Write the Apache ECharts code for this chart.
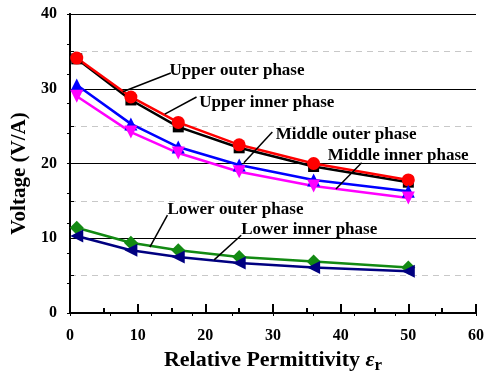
<!DOCTYPE html>
<html>
<head>
<meta charset="utf-8">
<script src="https://cdn.jsdelivr.net/npm/echarts@6/dist/echarts.min.js"></script>
<style>
  html, body { margin: 0; padding: 0; background: #fff; }
  #chart { width: 487px; height: 379px; }
</style>
</head>
<body>
<div id="chart"></div>
<script>
const permittivity = [1, 9, 16, 25, 36, 50]
const upperOuter = [34.0, 28.5, 24.9, 22.1, 19.6, 17.5]
const upperInner = [34.1, 28.9, 25.5, 22.5, 20.0, 17.8]
const middleOuter = [30.5, 25.3, 22.2, 19.8, 17.8, 16.3]
const middleInner = [29.0, 24.2, 21.4, 18.9, 17.0, 15.4]
const lowerOuter = [11.4, 9.4, 8.4, 7.5, 6.9, 6.1]
const lowerInner = [10.3, 8.4, 7.5, 6.7, 6.1, 5.6]

// label text, text anchor, pointer start, pointer end (data coords)
const notes = [
  ['Upper outer phase', [14.7, 32.4], [14.9, 32.1], [7.8, 29.6]],
  ['Upper inner phase', [19.1, 28.2], [18.7, 28.9], [14.0, 26.6]],
  ['Middle outer phase', [30.4, 23.9], [29.9, 24.2], [25.7, 20.1]],
  ['Middle inner phase', [38.1, 21.1], [43.1, 20.1], [39.3, 16.6]],
  ['Lower outer phase', [14.4, 13.8], [14.4, 13.1], [11.8, 8.8]],
  ['Lower inner phase', [25.3, 11.1], [25.3, 10.4], [21.3, 7.1]],
]

const font = 'Liberation Serif'
const pairs = vals => vals.map((v, i) => [permittivity[i], v])

const line = (name, vals, color, symbol, size, rotate) => ({
  name,
  type: 'line',
  data: pairs(vals),
  symbol,
  symbolSize: size,
  symbolRotate: rotate || 0,
  lineStyle: { color, width: 2.5 },
  itemStyle: { color },
  z: 3,
})

const myChart = echarts.init(document.getElementById('chart'))
myChart.setOption({
  animation: false,
  grid: { left: 70, right: 9, top: 14, bottom: 66 },
  xAxis: [
    {
      type: 'value',
      min: 0, max: 60, interval: 10,
      name: '{a|Relative Permittivity }{e|ε}{s|r}',
      nameLocation: 'middle',
      nameGap: 34,
      nameTextStyle: {
        rich: {
          a: { fontFamily: font, fontWeight: 'bold', fontSize: 22, color: '#000' },
          e: { fontFamily: font, fontStyle: 'italic', fontWeight: 'bold', fontSize: 22, color: '#000' },
          s: { fontFamily: font, fontWeight: 'bold', fontSize: 17, color: '#000', padding: [10, 0, 0, 0] },
        },
      },
      axisLine: { lineStyle: { color: '#000', width: 2 } },
      axisTick: { inside: true, length: 9, lineStyle: { color: '#000', width: 2 } },
      minorTick: { show: true, splitNumber: 2, length: 5, lineStyle: { color: '#000', width: 2 } },
      axisLabel: { margin: 15, fontFamily: font, fontWeight: 'bold', fontSize: 16, color: '#000' },
      splitLine: { show: false },
    },
    {
      type: 'value',
      position: 'top',
      min: 0, max: 60, interval: 6,
      axisLine: { show: true, lineStyle: { color: '#000', width: 2 } },
      axisTick: { show: true, inside: true, length: 3, lineStyle: { color: '#000' } },
      axisLabel: { show: false },
      splitLine: { show: false },
    },
  ],
  yAxis: [
    {
      type: 'value',
      min: 0, max: 40, interval: 10,
      name: 'Voltage (V/A)',
      nameLocation: 'middle',
      nameGap: 39,
      nameTextStyle: { fontFamily: font, fontWeight: 'bold', fontSize: 21, color: '#000', padding: [0, 20, 0, 0] },
      axisLine: { show: true, lineStyle: { color: '#000', width: 2 } },
      axisTick: { show: true, inside: true, length: 4, lineStyle: { color: '#000' } },
      minorTick: { show: true, splitNumber: 2, length: 4, lineStyle: { color: '#000' } },
      axisLabel: { margin: 13, fontFamily: font, fontWeight: 'bold', fontSize: 16, color: '#000' },
      splitLine: { show: true, lineStyle: { color: '#000', width: 1 } },
      minorSplitLine: { show: true, lineStyle: { color: '#c8c8c8', width: 1, type: [6, 5] } },
    },
    {
      type: 'value',
      position: 'right',
      min: 0, max: 40, interval: 4,
      axisLine: { show: true, lineStyle: { color: '#000', width: 2 } },
      axisTick: { show: true, inside: true, length: 3, lineStyle: { color: '#000' } },
      axisLabel: { show: false },
      splitLine: { show: false },
    },
  ],
  series: [
    line('Upper outer phase', upperOuter, '#000000', 'rect', 11),
    line('Upper inner phase', upperInner, '#ff0000', 'circle', 13),
    line('Middle outer phase', middleOuter, '#0000ff', 'triangle', 13),
    line('Middle inner phase', middleInner, '#ff00ff', 'triangle', 13, 180),
    line('Lower outer phase', lowerOuter, '#138a13', 'diamond', 14),
    line('Lower inner phase', lowerInner, '#000080', 'triangle', 13, 90),
  ],
})

// annotation labels and pointers, placed through the axes
const px = c => myChart.convertToPixel({ xAxisIndex: 0, yAxisIndex: 0 }, c)
const graphic = []
notes.forEach(([text, at, from, to]) => {
  const p = px(at), a = px(from), b = px(to)
  graphic.push({
    type: 'line',
    shape: { x1: a[0], y1: a[1], x2: b[0], y2: b[1] },
    style: { stroke: '#000', lineWidth: 1.5 },
    z: 10,
  })
  graphic.push({
    type: 'text',
    x: p[0], y: p[1],
    style: {
      text,
      fill: '#000',
      font: 'bold 17px "Liberation Serif"',
      textAlign: 'left',
      textVerticalAlign: 'middle',
    },
    z: 10,
  })
})
myChart.setOption({ graphic })
</script>
</body>
</html>
